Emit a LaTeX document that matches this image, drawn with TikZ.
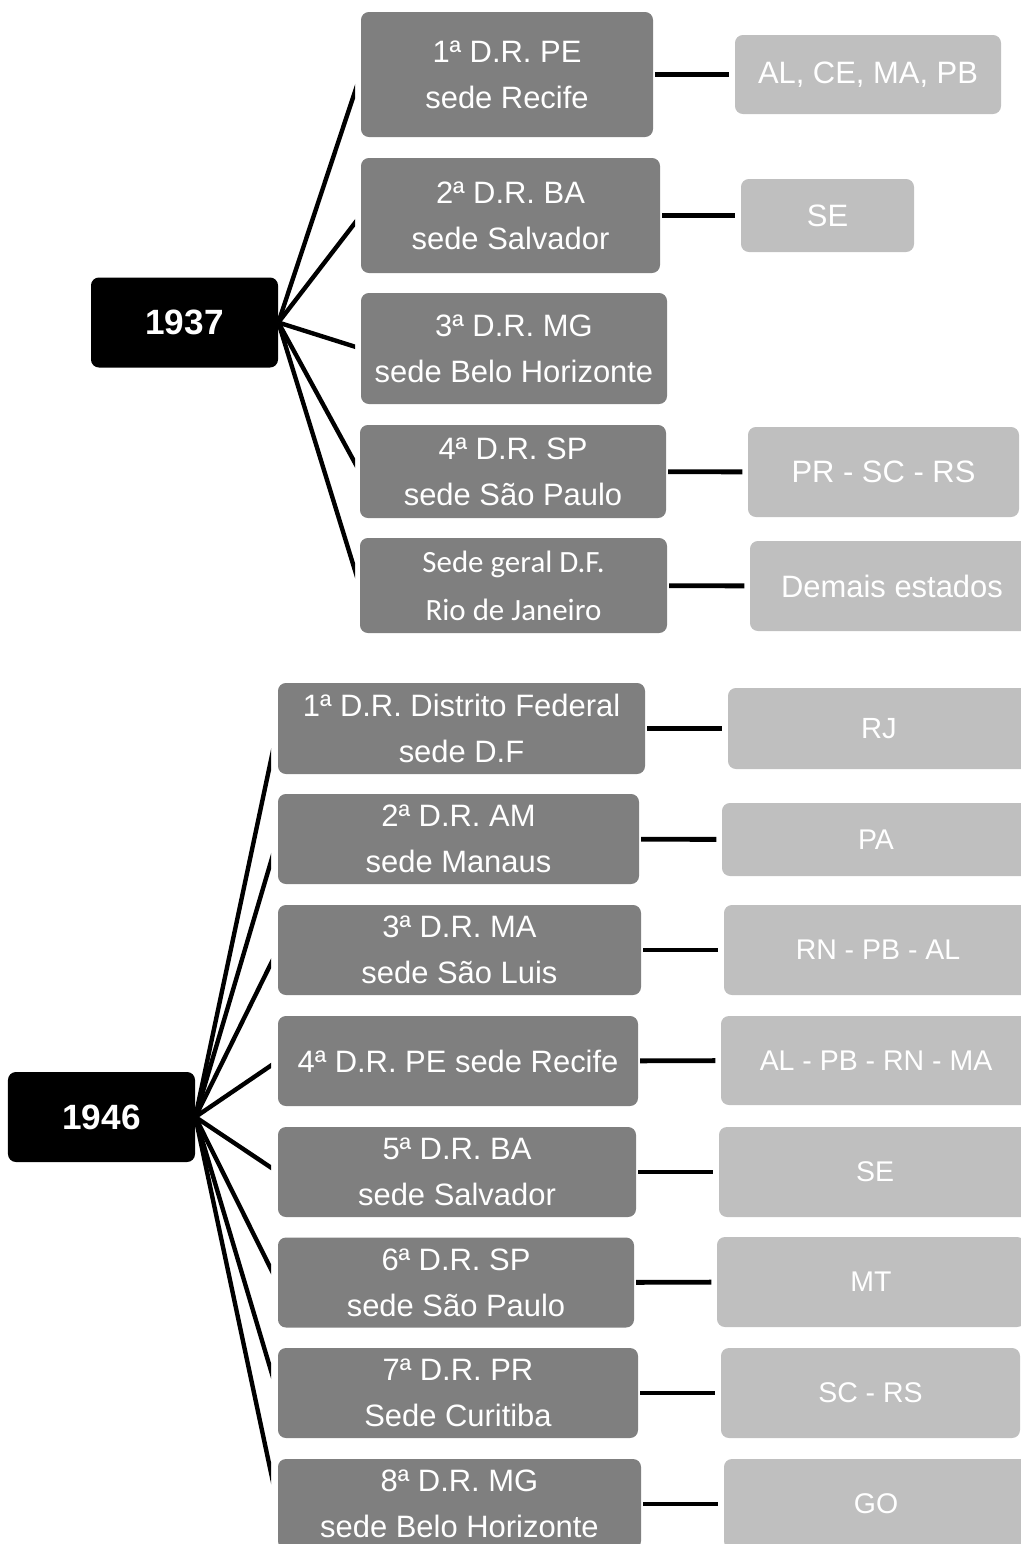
\documentclass[tikz,border=0pt]{standalone}
\usepackage{fontspec}
\setmainfont{Liberation Sans}
\newfontfamily\calibfont{Carlito}
\usepackage{tikz}
\definecolor{drgrey}{HTML}{7F7F7F}
\definecolor{ufgrey}{HTML}{BFBFBF}

\begin{document}
\begin{tikzpicture}[
  yr/.style={fill=black,text=white,rounded corners=4.5pt,inner sep=0pt,
             minimum width=3.74cm,minimum height=1.8cm,
             font=\fontsize{20}{24}\selectfont\bfseries},
  dr/.style={fill=drgrey,text=white,rounded corners=4.5pt,inner sep=0pt,
             align=center,minimum height=1.8cm,
             font=\fontsize{17.6}{26}\selectfont},
  uf/.style={fill=ufgrey,text=white,rounded corners=4.5pt,inner sep=0pt,
             align=center,minimum height=1.8cm,
             font=\fontsize{17.6}{26}\selectfont},
  ufs/.style={uf,font=\fontsize{16.2}{20}\selectfont},
  fan/.style={line width=2.5pt},
  lnk/.style={line width=2.8pt,shorten <=1pt,shorten >=3pt}]

\useasboundingbox (0,0) rectangle (20.42,-30.88);
\clip (0,0) rectangle (20.42,-30.88);

\node[yr] (y37) at (3.69,-6.45) {1937};

\node[dr,minimum width=5.84cm,minimum height=2.5cm] (a1) at (10.14,-1.49) {1ª D.R. PE\\sede Recife};
\node[dr,minimum width=5.98cm,minimum height=2.3cm] (a2) at (10.21,-4.31) {2ª D.R. BA\\sede Salvador};
\node[dr,minimum width=6.12cm,minimum height=2.22cm] (a3) at (10.28,-6.97) {3ª D.R. MG\\sede Belo Horizonte};
\node[dr,minimum width=6.12cm,minimum height=1.86cm] (a4) at (10.26,-9.43) {4ª D.R. SP\\sede São Paulo};
\node[dr,minimum width=6.14cm,minimum height=1.9cm,
  font=\calibfont\fontsize{17.6}{27.2}\selectfont] (a5) at (10.27,-11.71) {Sede geral D.F.\\Rio de Janeiro};

\node[uf,minimum width=5.32cm,minimum height=1.58cm] (ua1) at (17.36,-1.49) {AL, CE, MA, PB};
\node[uf,minimum width=3.46cm,minimum height=1.46cm] (ua2) at (16.55,-4.31) {SE};
\node[uf,minimum width=5.42cm] (ua4) at (17.67,-9.44) {PR - SC - RS};
\node[uf,minimum width=5.68cm] (ua5) at (17.84,-11.72) {Demais estados};

\begin{scope}
\clip (0,0) rectangle (7.1,-13);
\draw[fan] (y37.east) -- (a1.west);
\draw[fan] (y37.east) -- (a2.west);
\draw[fan] (y37.east) -- (a3.west);
\draw[fan] (y37.east) -- (a4.west);
\draw[fan] (y37.east) -- (a5.west);
\end{scope}

\draw[lnk] (a1) -- (ua1);
\draw[lnk] (a2) -- (ua2);
\draw[lnk] (a4) -- (ua4);
\draw[lnk] (a5) -- (ua5);

\node[yr] (y46) at (2.03,-22.34) {1946};

\node[dr,minimum width=7.34cm,minimum height=1.82cm] (b1) at (9.23,-14.57) {1ª D.R. Distrito Federal\\sede D.F};
\node[dr,minimum width=7.22cm] (b2) at (9.17,-16.78) {2ª D.R. AM\\sede Manaus};
\node[dr,minimum width=7.26cm] (b3) at (9.19,-19.00) {3ª D.R. MA\\sede São Luis};
\node[dr,minimum width=7.20cm] (b4) at (9.16,-21.22) {4ª D.R. PE sede Recife};
\node[dr,minimum width=7.16cm] (b5) at (9.14,-23.44) {5ª D.R. BA\\sede Salvador};
\node[dr,minimum width=7.12cm] (b6) at (9.12,-25.65) {6ª D.R. SP\\sede São Paulo};
\node[dr,minimum width=7.20cm] (b7) at (9.16,-27.86) {7ª D.R. PR\\Sede Curitiba};
\node[dr,minimum width=7.26cm] (b8) at (9.19,-30.08) {8ª D.R. MG\\sede Belo Horizonte};

\node[ufs,minimum width=6.04cm,minimum height=1.62cm,
  font=\fontsize{16.6}{20}\selectfont] (ub1) at (17.58,-14.57) {RJ};
\node[ufs,minimum width=6.16cm,minimum height=1.46cm] (ub2) at (17.52,-16.79) {PA};
\node[ufs,minimum width=6.16cm] (ub3) at (17.56,-19.00) {RN - PB - AL};
\node[ufs,minimum width=6.20cm,minimum height=1.78cm] (ub4) at (17.52,-21.21) {AL - PB - RN - MA};
\node[ufs,minimum width=6.24cm] (ub5) at (17.50,-23.44) {SE};
\node[ufs,minimum width=6.16cm] (ub6) at (17.42,-25.64) {MT};
\node[ufs,minimum width=5.98cm] (ub7) at (17.41,-27.86) {SC - RS};
\node[ufs,minimum width=6.08cm] (ub8) at (17.52,-30.08) {GO};

\begin{scope}
\clip (0,-13) rectangle (5.42,-31);
\draw[fan] (y46.east) -- (b1.west);
\draw[fan] (y46.east) -- (b2.west);
\draw[fan] (y46.east) -- (b3.west);
\draw[fan] (y46.east) -- (b4.west);
\draw[fan] (y46.east) -- (b5.west);
\draw[fan] (y46.east) -- (b6.west);
\draw[fan] (y46.east) -- (b7.west);
\draw[fan] (y46.east) -- (b8.west);
\end{scope}

\draw[lnk] (b1) -- (ub1);
\draw[lnk] (b2) -- (ub2);
\draw[lnk] (b3) -- (ub3);
\draw[lnk] (b4) -- (ub4);
\draw[lnk] (b5) -- (ub5);
\draw[lnk] (b6) -- (ub6);
\draw[lnk] (b7) -- (ub7);
\draw[lnk] (b8) -- (ub8);
\end{tikzpicture}
\end{document}
